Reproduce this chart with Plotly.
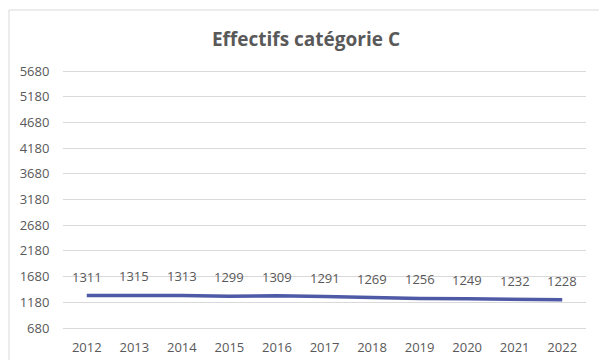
import plotly.graph_objects as go

# Effectifs de la catégorie C, 2012-2022
annees = [2012, 2013, 2014, 2015, 2016, 2017, 2018, 2019, 2020, 2021, 2022]
effectifs = [1311, 1315, 1313, 1299, 1309, 1291, 1269, 1256, 1249, 1232, 1228]
graduations = [680, 1180, 1680, 2180, 2680, 3180, 3680, 4180, 4680, 5180, 5680]

W, H = 599, 360
TXT = "#595959"
FONT = "Open Sans"

# zone utile : graduation basse à y=328 px, graduation haute à y=71 px
Y_HAUT, Y_BAS = 71, 328
X_G, X_D = 63, 586
PAD_PX = 3  # laisse les lignes extrêmes à l'intérieur de la zone de tracé
unite_px = (Y_BAS - Y_HAUT) / (graduations[-1] - graduations[0])
pad = PAD_PX / unite_px
M_L, M_R = X_G, W - X_D
M_T, M_B = Y_HAUT - PAD_PX, H - Y_BAS - PAD_PX

libelles = [str(a) for a in annees]

fig = go.Figure()
fig.add_trace(go.Scatter(
    x=libelles,
    y=effectifs,
    mode="lines",
    line=dict(color="#4E5AA6", width=3.5),
    hoverinfo="x+y",
    showlegend=False,
))

# Étiquettes de valeurs au-dessus de la courbe (position = rang de la catégorie)
for i, v in enumerate(effectifs):
    fig.add_annotation(
        x=i, y=v, text=str(v), showarrow=False, yshift=19,
        font=dict(family=FONT, size=13, color=TXT),
    )

# Cadre du graphique (bords gauche et haut)
pw, ph = W - M_L - M_R, H - M_T - M_B
left = (9 - M_L) / pw
top = (H - M_B - 10) / ph
right = (W + 10 - M_L) / pw
bottom = -(M_B + 10) / ph
fig.add_shape(type="line", xref="paper", yref="paper",
              x0=left, x1=left, y0=bottom, y1=top,
              line=dict(color="#D9D9D9", width=1))
fig.add_shape(type="line", xref="paper", yref="paper",
              x0=left, x1=right, y0=top, y1=top,
              line=dict(color="#D9D9D9", width=1))

fig.update_layout(
    width=W, height=H,
    margin=dict(l=M_L, r=M_R, t=M_T, b=M_B, autoexpand=False),
    paper_bgcolor="white", plot_bgcolor="white",
    font=dict(family=FONT, size=13, color=TXT),
    title=dict(
        text="<b>Effectifs catégorie C</b>",
        x=306 / W, xanchor="center", xref="container",
        y=1 - 39 / H, yanchor="middle", yref="container",
        font=dict(family=FONT, size=19, color=TXT),
    ),
    xaxis=dict(
        type="category", categoryorder="array", categoryarray=libelles,
        range=[-0.5, len(libelles) - 0.5], automargin=False,
        showgrid=False, zeroline=False,
        showline=False, ticks="outside", ticklen=4, tickcolor="rgba(0,0,0,0)",
        tickfont=dict(family=FONT, size=13, color=TXT),
    ),
    yaxis=dict(
        range=[graduations[0] - pad, graduations[-1] + pad], automargin=False,
        tickmode="array", tickvals=graduations,
        ticktext=[str(g) for g in graduations],
        showgrid=True, gridcolor="#D9D9D9", gridwidth=1,
        zeroline=False, showline=False,
        ticks="outside", ticklen=10, tickcolor="rgba(0,0,0,0)",
        tickfont=dict(family=FONT, size=13, color=TXT),
    ),
)

fig.write_html("out.html")
